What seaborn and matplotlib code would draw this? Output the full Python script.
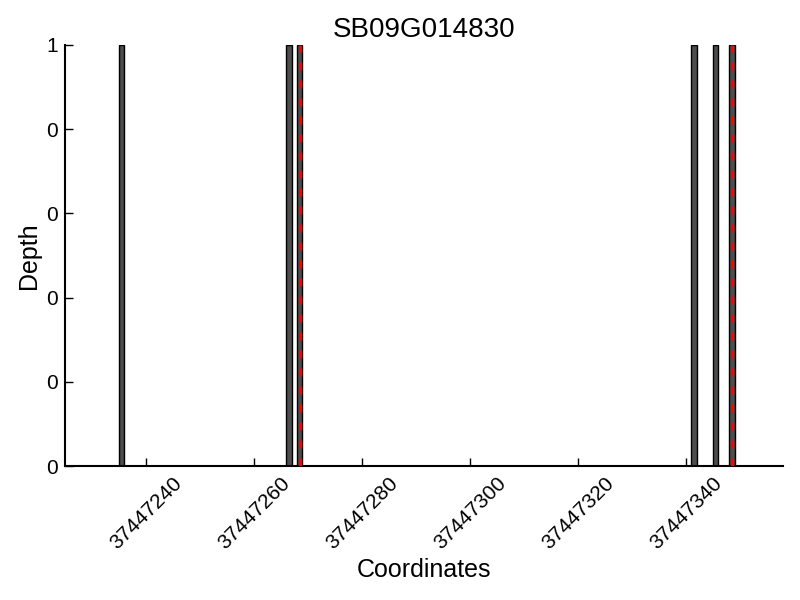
import numpy as np
import pandas as pd
import matplotlib
matplotlib.use('Agg')
import matplotlib.pyplot as plt
from matplotlib.ticker import FormatStrFormatter, MultipleLocator
import seaborn as sns

# Data
gene = "SB09G014830"
positions = [37447235, 37447266, 37447268, 37447341, 37447345, 37447348]
depth = [1, 1, 1, 1, 1, 1]
marked = [37447268, 37447348]  # red dashed markers
xlim = (37447225, 37447358)

df = pd.DataFrame({'pos': positions, 'depth': depth})

sns.set_style('ticks')
plt.rcParams['font.family'] = ['Liberation Sans', 'DejaVu Sans']
plt.rcParams['text.color'] = 'black'
plt.rcParams['axes.labelcolor'] = 'black'

fig, ax = plt.subplots(figsize=(8, 6), dpi=100)
fig.subplots_adjust(left=0.081, right=0.979, top=0.925, bottom=0.223)

sns.histplot(data=df, x='pos', weights='depth', binwidth=1,
             binrange=(min(positions), max(positions) + 1), ax=ax,
             color='#4d4d4d', edgecolor='black', linewidth=1, alpha=1)

for m in marked:
    ax.vlines(m + 0.5, 0, 1, colors='red', linestyles=(0, (2.4, 3.0)),
              linewidth=2.4, zorder=5)

ax.set_xlim(*xlim)
ax.set_ylim(0, 1)
ax.xaxis.set_major_locator(MultipleLocator(20))
ax.yaxis.set_major_locator(MultipleLocator(0.2))
ax.yaxis.set_major_formatter(FormatStrFormatter('%d'))
ax.xaxis.set_major_formatter(FormatStrFormatter('%d'))

ax.tick_params(direction='in', length=6, width=1, labelsize=15, pad=5,
               colors='black', labelcolor='black')
plt.setp(ax.get_xticklabels(), rotation=45)
for s in ['left', 'bottom']:
    ax.spines[s].set_linewidth(1.5)
    ax.spines[s].set_color('black')
sns.despine(ax=ax)

ax.set_title(gene, fontsize=20, color='black')
ax.set_xlabel('Coordinates', fontsize=18)
ax.set_ylabel('Depth', fontsize=18)

fig.savefig('out.png', dpi=100)
